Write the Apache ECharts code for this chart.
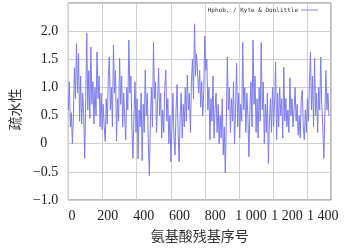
<!DOCTYPE html>
<html><head><meta charset="utf-8">
<script src="https://cdn.jsdelivr.net/npm/echarts@6/dist/echarts.min.js"></script>
<style>html,body{margin:0;padding:0;background:#fff}#c{width:356px;height:251px}</style>
</head><body><div id="c"></div>
<script>
// Kyte & Doolittle hydrophobicity, sampled every 6 residues
var residueStep = 6;
var hydro = [
 0.6, 1.1, 0.3, 0.55, 0.0,
 0.5, 1.35, 0.8, 1.78, 0.9,
 1.6, 0.4, 1.2, 0.35, 0.9,
 0.5, -0.26, 0.8, 1.96, 0.6,
 1.3, 0.45, 1.72, 0.7, 1.1,
 0.35, 1.0, 0.5, 1.63, 0.8,
 1.2, 0.3, 0.9, 0.25, 0.7,
 0.3, 0.04, 0.8, 0.35, 1.2,
 1.54, 0.6, 1.0, 0.3, 1.75,
 0.9, 1.3, 0.05, 0.8, 0.4,
 1.52, 0.7, 1.2, 0.3, 0.9,
 0.45, 0.07, 1.0, 0.6, 1.84,
 0.9, 1.2, 0.3, -0.26, 0.5,
 1.1, 0.2, 0.8, -0.27, 0.6,
 0.3, 0.9, -0.3, 0.7, 0.2,
 1.31, 0.5, 0.9, 0.0, -0.57,
 0.4, 1.0, 0.3, 1.8, 0.8,
 1.1, 0.2, 0.7, 1.34, 0.5,
 0.9, 0.1, 0.6, 0.2, 1.0,
 1.31, 0.4, 0.8, 0.0, 0.5,
 -0.32, 0.3, 0.9, 0.1, -0.2,
 0.6, 1.05, 0.2, -0.32, 0.5,
 0.9, 0.1, 0.7, 0.3, 1.0,
 0.4, 1.22, 0.6, 0.9, 0.2,
 1.1, 1.5, 0.8, 2.13, 1.2,
 1.6, 1.57, 0.9, 1.3, 0.65,
 1.1, 0.5, 0.9, 1.91, 1.3,
 1.5, 0.6, 1.0, 0.07, 0.8,
 0.4, 1.2, 0.1, 0.6, 0.9,
 0.2, 0.7, 0.0, 0.5, 0.1,
 0.8, -0.2, 0.3, -0.52, 0.4,
 1.54, 0.6, 1.0, 0.2, 0.8,
 0.4, 1.1, 0.0, 0.6, 1.43,
 0.3, 0.9, 0.1, 0.7, 0.4,
 1.8, 0.6, 1.0, 0.2, 0.9,
 0.5, -0.23, 0.6, 1.1, 0.3,
 1.84, 0.7, 1.2, 0.2, 0.8,
 0.1, 1.0, 0.4, 1.8, 0.6,
 1.1, 0.0, 0.7, 0.2, 0.9,
 -0.35, 0.4, 0.8, 0.2, 1.0,
 0.3, 0.7, 1.45, 0.07, 0.9,
 0.3, 1.0, 0.5, 0.8, 0.1,
 1.36, 0.4, 0.8, 0.3, 0.6,
 0.2, 1.17, 0.5, 0.8, 0.3,
 0.6, 1.0, 0.4, 0.7, 0.15,
 0.5, 0.1, 0.8, 0.95, 0.3,
 0.07, 0.6, 0.2, 0.8, 0.4,
 1.1, 1.63, 0.6, 1.2, 0.3,
 1.52, 0.5, 0.9, 0.2, 1.0,
 0.6, 1.54, 0.7, 0.3, -0.26,
 0.5, 1.3, 0.6, 0.9, 0.5, 0.5
];
var xTickLabels = [0, 200, 400, 600, 800, 1000, 1200, 1400];
var seriesName = 'Hphob. / Kyte & Doolittle';
var xName = '氨基酸残基序号';
var yName = '疏水性';

var data = hydro.map(function (v, i) { return [i * residueStep, v]; });

function fmtX(v) {
  v = Math.round(v);
  if (v >= 1000) { var s = String(v); return s.slice(0, s.length - 3) + ' ' + s.slice(-3); }
  return String(v);
}
function fmtY(v) {
  if (Math.abs(v) < 1e-9) return '{z|0}';
  if (v > 2.25) return '';
  var s = Math.abs(v).toFixed(1);
  return (v < 0 ? '\u2212' : '') + s;
}

var chart = echarts.init(document.getElementById('c'), null, {renderer: 'canvas'});
chart.setOption({
  animation: false,
  backgroundColor: '#fff',
  grid: {left: 63, right: 25, top: 3, bottom: 51, show: true, borderColor: '#777', borderWidth: 1, containLabel: false},
  legend: {
    show: true, right: 33, top: 2, align: 'right',
    icon: 'rect', itemWidth: 17, itemHeight: 1, itemGap: 2,
    textStyle: {fontSize: 6, fontFamily: 'DejaVu Sans Mono', color: '#333', padding: [0, -2, 0, 0]},
    data: [seriesName]
  },
  xAxis: [{
    type: 'value', min: 0, max: 1536, interval: 200,
    axisLine: {show: false}, axisTick: {show: false}, axisLabel: {show: false},
    splitLine: {show: true, lineStyle: {color: '#cfcfcf', width: 1}}
  }, {
    type: 'value', min: -20.8, max: 1446, position: 'bottom',
    axisLine: {show: false}, axisTick: {show: false},
    splitLine: {show: false},
    axisLabel: {
      customValues: xTickLabels, margin: 9, formatter: fmtX, hideOverlap: false,
      fontFamily: 'Liberation Serif', fontSize: 14, color: '#222'
    },
    name: xName, nameLocation: 'middle', nameGap: 29,
    nameTextStyle: {fontFamily: 'Noto Sans CJK SC', fontSize: 14, color: '#333'}
  }],
  yAxis: {
    type: 'value', min: -1, max: 2.5, interval: 0.5,
    axisLine: {show: false}, axisTick: {show: false},
    splitLine: {show: true, lineStyle: {color: '#cfcfcf', width: 1}},
    axisLabel: {
      margin: 10, formatter: fmtY,
      fontFamily: 'Liberation Serif', fontSize: 14, color: '#222',
      rich: {z: {fontFamily: 'Liberation Serif', fontSize: 14, color: '#222', padding: [0, 11, 0, 0]}}
    },
    name: yName, nameLocation: 'middle', nameGap: 46,
    nameTextStyle: {fontFamily: 'Noto Sans CJK SC', fontSize: 14, color: '#333', padding: [0, 16, 0, 0]}
  },
  series: [{
    name: seriesName, type: 'line', xAxisIndex: 0, data: data,
    showSymbol: false, symbol: 'none', smooth: false, sampling: null,
    lineStyle: {color: '#7c7cf0', width: 1},
    itemStyle: {color: '#8a8af2'}
  }]
});
</script>
</body></html>
